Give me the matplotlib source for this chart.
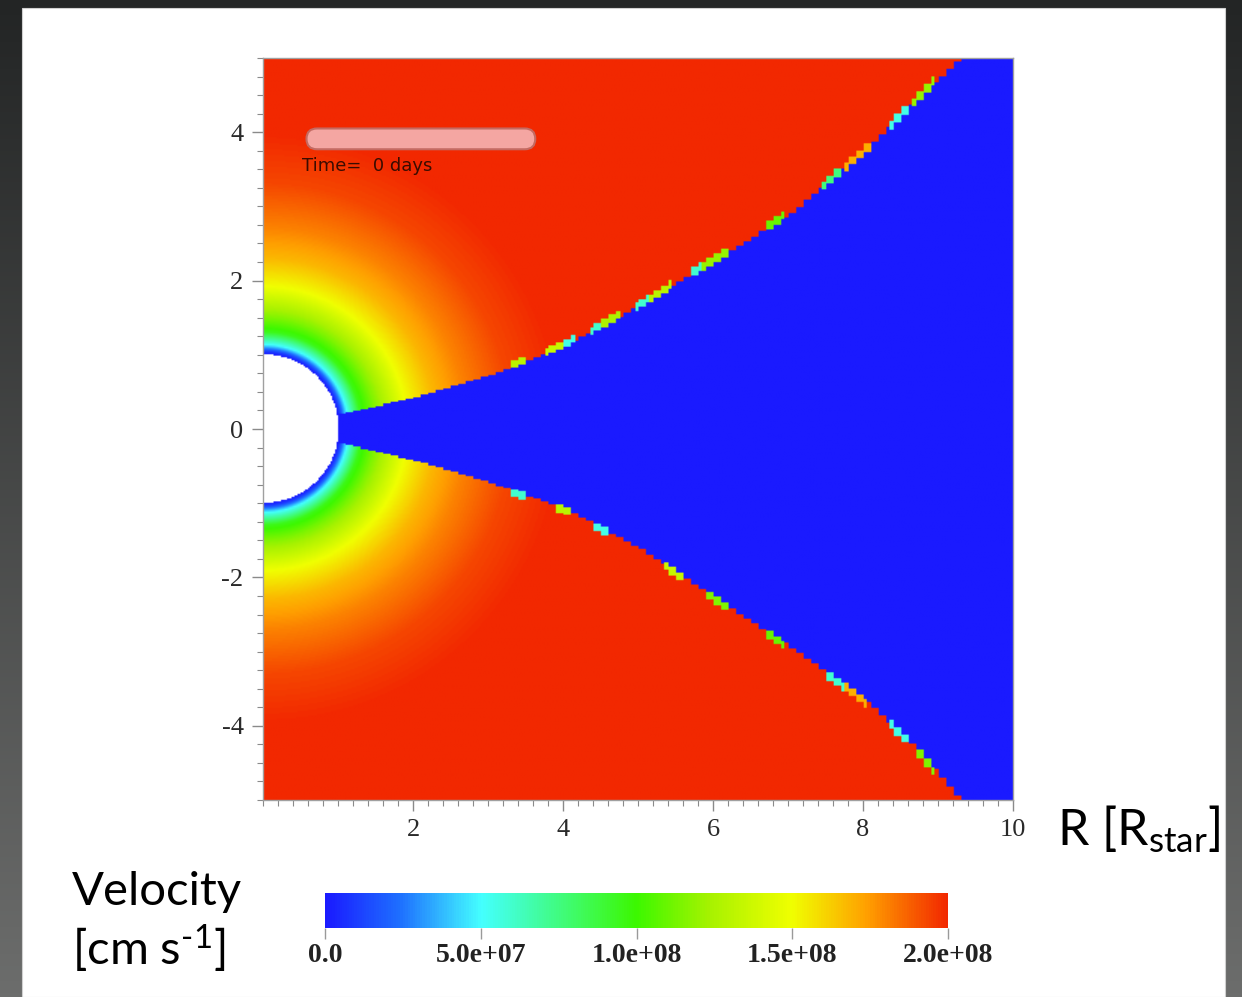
import numpy as np
import matplotlib
matplotlib.use("Agg")
import matplotlib.pyplot as plt
from matplotlib.colors import LinearSegmentedColormap
from matplotlib.patches import Rectangle, FancyBboxPatch
from matplotlib.ticker import MultipleLocator

plt.rcParams['mathtext.fontset'] = 'custom'
plt.rcParams['mathtext.rm'] = 'Lato'
plt.rcParams['mathtext.it'] = 'Lato:italic'
plt.rcParams['axes.unicode_minus'] = False

# wind velocity vs radius (R_star, cm/s)
wind_r = [1.0, 1.04, 1.13, 1.30, 1.50, 1.92, 2.30, 2.70, 3.30, 4.00, 12.0]
wind_v = [0.0, 0.1e8, 0.5e8, 0.95e8, 1.15e8, 1.5e8, 1.68e8, 1.80e8, 1.93e8, 2.0e8, 2.0e8]

# disk surface (upper / lower) vs R
disk_x = [1.0, 2.0, 3.0, 4.0, 5.0, 6.0, 7.0, 8.0, 8.6, 9.25, 10.0]
disk_top = [0.20, 0.42, 0.73, 1.13, 1.67, 2.28, 2.91, 3.76, 4.37, 5.00, 5.80]
disk_bot = [-0.20, -0.44, -0.74, -1.09, -1.63, -2.30, -2.96, -3.68, -4.25, -5.00, -5.80]

# cells along the disk surface with intermediate velocities: (R0, R1, v)
top_cells = [(3.3, 3.5, 1.3e8), (3.75, 4.0, 1.35e8), (4.0, 4.15, 0.55e8),
             (4.35, 4.5, 0.6e8), (4.5, 4.75, 1.25e8), (4.95, 5.15, 0.6e8),
             (5.15, 5.45, 1.3e8), (5.7, 5.85, 0.6e8), (5.85, 6.2, 1.2e8),
             (6.7, 6.95, 1.1e8), (7.45, 7.7, 0.75e8), (7.75, 8.1, 1.7e8),
             (8.35, 8.6, 0.55e8), (8.65, 8.95, 1.2e8)]
bot_cells = [(3.3, 3.5, 0.6e8), (3.9, 4.1, 1.3e8), (4.4, 4.6, 0.55e8),
             (5.35, 5.6, 1.35e8), (5.9, 6.2, 1.15e8), (6.7, 6.95, 1.1e8),
             (7.5, 7.75, 0.6e8), (7.75, 8.05, 1.7e8), (8.35, 8.6, 0.55e8),
             (8.7, 8.95, 1.15e8)]

cbar_ticks = [0.0, 5.0e7, 1.0e8, 1.5e8, 2.0e8]
cbar_labels = ['0.0', '5.0e+07', '1.0e+08', '1.5e+08', '2.0e+08']
xticks = [2, 4, 6, 8, 10]
yticks = [-4, -2, 0, 2, 4]

cmap = LinearSegmentedColormap.from_list('vel', [
    (0.0, '#1a1aff'), (0.12, '#1e70ff'), (0.25, '#44ffff'), (0.5, '#3cf800'),
    (0.62, '#a8f200'), (0.75, '#f0ff00'), (0.87, '#ffa000'), (1.0, '#f22800')])
cmap.set_bad('white')

# velocity map on a grid
nx, ny = 500, 500
xs = np.linspace(0, 10, nx)
ys = np.linspace(-5, 5, ny)
X, Y = np.meshgrid(xs, ys)
R = np.hypot(X, Y)
V = np.interp(R, wind_r, wind_v)

Xq = np.floor(X / 0.1) * 0.1  # grid steps along the disk surface
top = np.interp(Xq, disk_x, disk_top)
bot = np.interp(Xq, disk_x, disk_bot)
V[(Y <= top) & (Y >= bot) & (X >= 0.95)] = 0.0
for x0, x1, v in top_cells:
    V[(X >= x0) & (X < x1) & (Y > top - 0.03) & (Y < top + 0.08)] = v
for x0, x1, v in bot_cells:
    V[(X >= x0) & (X < x1) & (Y < bot + 0.03) & (Y > bot - 0.08)] = v
V = np.ma.masked_where(R < 1.0, V)

fig = plt.figure(figsize=(12.42, 9.97), dpi=100)

# dark backdrop and white page
bg = fig.add_axes([0, 0, 1, 1])
grad = np.linspace(0, 1, 256).reshape(-1, 1)
bg.imshow(grad, extent=[0, 1, 0, 1], aspect='auto', origin='lower',
          cmap=LinearSegmentedColormap.from_list('bg', ['#6c6d6c', '#232525']))
bg.add_patch(Rectangle((22 / 1242, 0), (1225 - 22) / 1242, (997 - 8) / 997,
                       transform=bg.transAxes, facecolor='white',
                       edgecolor='#d0d0d0', lw=0.8))
bg.set_xlim(0, 1)
bg.set_ylim(0, 1)
bg.axis('off')

ax = fig.add_axes([263 / 1242, 1 - 800 / 997, 750 / 1242, 742 / 997])
im = ax.imshow(V, origin='lower', extent=[0, 10, -5, 5], cmap=cmap,
               vmin=0, vmax=2e8, aspect='auto', interpolation='bilinear')
ax.set_xlim(0, 10)
ax.set_ylim(-5, 5)
ax.set_xticks(xticks)
ax.set_yticks(yticks)
ax.xaxis.set_minor_locator(MultipleLocator(0.2))
ax.yaxis.set_minor_locator(MultipleLocator(0.25))
ax.tick_params(which='both', direction='out', color='#8a8a8a')
ax.tick_params(which='major', length=8, width=1.0, labelsize=19,
               labelcolor='#2a2a2a', pad=6)
ax.tick_params(which='minor', length=4, width=0.8)
for lab in ax.get_xticklabels() + ax.get_yticklabels():
    lab.set_family('Liberation Serif')
for sp in ax.spines.values():
    sp.set_color('#a0a0a0')
    sp.set_linewidth(1.0)

# time bar
ax.add_patch(FancyBboxPatch((0.058, 0.877), 0.305, 0.028,
                            boxstyle='round,pad=0,rounding_size=0.014',
                            transform=ax.transAxes, facecolor='#f4a6a2',
                            edgecolor='#c46a62', lw=1.5))
ax.text(0.052, 0.855, 'Time=  0 days', transform=ax.transAxes, fontsize=13,
        color='#3a0c00', va='center', ha='left', family='DejaVu Sans')

# colorbar
cax = fig.add_axes([325 / 1242, 1 - 928 / 997, 623 / 1242, 35 / 997])
cb = fig.colorbar(im, cax=cax, orientation='horizontal', ticks=cbar_ticks)
cb.set_ticklabels(cbar_labels)
cb.outline.set_visible(False)
cax.tick_params(length=8, width=1.0, color='#9a9a9a', labelcolor='#222222',
                labelsize=20, pad=3)
for lab in cax.get_xticklabels():
    lab.set_family('Liberation Serif')
    lab.set_weight('bold')

fig.text(1057 / 1242, 1 - 845 / 997, r'R [R$_{\mathrm{star}}$]',
         fontsize=36, family='Lato', va='baseline', ha='left', color='black')
fig.text(72 / 1242, 1 - 905 / 997, 'Velocity',
         fontsize=34, family='Lato', va='baseline', ha='left', color='black')
fig.text(72 / 1242, 1 - 965 / 997, r'[cm s$^{\text{-1}}$]',
         fontsize=34, family='Lato', va='baseline', ha='left', color='black')

fig.savefig('out.png', dpi=100)
